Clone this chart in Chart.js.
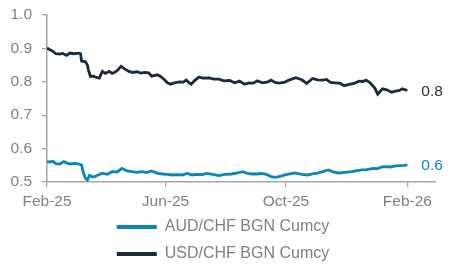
<!DOCTYPE html>
<html>
<head>
<meta charset="utf-8">
<script src="https://cdn.jsdelivr.net/npm/chart.js@4"></script>
<style>
  html, body { margin: 0; padding: 0; background: #ffffff; }
  #wrap { width: 450px; height: 271px; position: relative; }
</style>
</head>
<body>
<div id="wrap"><canvas id="c"></canvas></div>
<script>
// Days counted from 1 Feb 2025
const seriesNames = ['AUD/CHF BGN Cumcy', 'USD/CHF BGN Cumcy'];
const tickDays = [0, 120, 242, 365];
const tickLabels = ['Feb-25', 'Jun-25', 'Oct-25', 'Feb-26'];
const yTicks = [0.5, 0.6, 0.7, 0.8, 0.9, 1.0];

const audDays = [0,3,6,9,13,17,21,24,28,32,35,37,39,41,43,46,49,52,56,61,66,71,76,81,86,91,96,101,106,112,117,122,127,132,137,142,147,152,157,162,168,174,180,187,193,198,203,208,213,217,222,227,231,235,241,246,251,258,264,269,275,280,285,290,295,302,309,314,319,324,330,335,339,343,348,353,358,362,365];
const audValues = [0.561,0.560,0.562,0.555,0.554,0.561,0.556,0.554,0.556,0.554,0.551,0.526,0.511,0.506,0.520,0.515,0.517,0.521,0.526,0.523,0.531,0.530,0.541,0.533,0.531,0.529,0.531,0.528,0.533,0.526,0.524,0.523,0.521,0.522,0.521,0.526,0.521,0.523,0.522,0.526,0.523,0.519,0.523,0.524,0.527,0.531,0.526,0.524,0.524,0.526,0.523,0.516,0.514,0.516,0.521,0.524,0.527,0.523,0.521,0.524,0.527,0.532,0.536,0.530,0.527,0.529,0.531,0.534,0.536,0.537,0.541,0.540,0.545,0.546,0.545,0.548,0.549,0.550,0.551];

const usdDays = [0,3,5,9,13,16,20,23,27,32,34,35,39,41,42,44,47,50,53,56,59,63,66,69,72,75,79,83,87,91,95,99,103,106,112,115,119,122,125,129,134,138,141,144,146,150,154,158,164,169,174,179,185,190,195,200,205,209,213,218,223,227,231,235,240,245,252,258,263,269,274,279,283,287,292,297,301,306,311,316,320,323,327,332,335,338,340,344,349,353,357,360,365];
const usdValues = [0.901,0.896,0.893,0.884,0.883,0.885,0.879,0.886,0.884,0.886,0.884,0.862,0.860,0.849,0.835,0.816,0.817,0.813,0.811,0.831,0.825,0.831,0.825,0.829,0.836,0.846,0.838,0.831,0.828,0.830,0.826,0.828,0.827,0.817,0.821,0.816,0.806,0.797,0.793,0.797,0.800,0.799,0.805,0.797,0.793,0.805,0.814,0.811,0.812,0.808,0.808,0.803,0.804,0.797,0.802,0.793,0.797,0.796,0.803,0.797,0.799,0.805,0.798,0.796,0.798,0.805,0.812,0.806,0.795,0.810,0.806,0.805,0.807,0.798,0.797,0.795,0.788,0.792,0.795,0.802,0.801,0.805,0.798,0.781,0.763,0.773,0.779,0.776,0.769,0.772,0.774,0.779,0.774];

const colors = ['#0a87ba', '#1b2b3c'];
const greyText = '#7f7f7f';
const axisGrey = '#a6a6a6';

function pts(days, vals) { return days.map((d, i) => ({ x: d, y: vals[i] })); }

const endLabels = {
  id: 'endLabels',
  afterDatasetsDraw(chart) {
    const ctx = chart.ctx;
    ctx.save();
    ctx.font = '15.5px "Liberation Sans", Arial, sans-serif';
    ctx.textAlign = 'left';
    ctx.textBaseline = 'middle';
    chart.data.datasets.forEach((ds, i) => {
      const meta = chart.getDatasetMeta(i);
      const last = meta.data[meta.data.length - 1];
      const v = ds.data[ds.data.length - 1].y;
      ctx.fillStyle = ds.borderColor;
      ctx.fillText(v.toFixed(1), last.x + 14, last.y + 1);
    });
    ctx.restore();
  }
};

new Chart(document.getElementById('c'), {
  type: 'line',
  data: {
    datasets: [
      { label: seriesNames[0], data: pts(audDays, audValues), borderColor: colors[0], backgroundColor: colors[0], borderWidth: 2.8, pointRadius: 0, tension: 0 },
      { label: seriesNames[1], data: pts(usdDays, usdValues), borderColor: colors[1], backgroundColor: colors[1], borderWidth: 2.8, pointRadius: 0, tension: 0 }
    ]
  },
  options: {
    responsive: true,
    maintainAspectRatio: false,
    animation: false,
    layout: { padding: { top: 15, right: 14, left: 10, bottom: -1 } },
    plugins: {
      tooltip: { enabled: false },
      legend: {
        position: 'bottom',
        align: 'center',
        labels: {
          color: greyText,
          font: { family: '"Liberation Sans", Arial, sans-serif', size: 16 },
          usePointStyle: true,
          pointStyle: 'line',
          pointStyleWidth: 40,
          padding: 11,
          generateLabels(chart) {
            return chart.data.datasets.map((ds, i) => ({
              text: ds.label, strokeStyle: ds.borderColor, fillStyle: ds.borderColor,
              lineWidth: 4, pointStyle: 'line', datasetIndex: i, hidden: false, fontColor: greyText
            }));
          }
        }
      }
    },
    scales: {
      x: {
        type: 'linear',
        min: 0,
        max: 394,
        afterBuildTicks(scale) { scale.ticks = tickDays.map(v => ({ value: v })); },
        afterFit(scale) { scale.height = 26; },
        ticks: {
          autoSkip: false, maxRotation: 0, padding: 5, color: greyText,
          font: { family: '"Liberation Sans", Arial, sans-serif', size: 15.5 },
          callback(value) { const i = tickDays.indexOf(value); return i >= 0 ? tickLabels[i] : ''; }
        },
        grid: { drawOnChartArea: false, drawTicks: true, tickLength: 5, color: axisGrey, lineWidth: 1.3 },
        border: { display: true, color: axisGrey, width: 1.5 }
      },
      y: {
        min: 0.5,
        max: 1.0,
        afterBuildTicks(scale) { scale.ticks = yTicks.map(v => ({ value: v })); },
        afterFit(scale) { scale.width = 37; },
        ticks: {
          padding: 10, color: greyText,
          font: { family: '"Liberation Sans", Arial, sans-serif', size: 15.5, lineHeight: 0.6 },
          callback(value) { return value.toFixed(1); }
        },
        grid: { drawOnChartArea: false, drawTicks: true, tickLength: 5, color: axisGrey, lineWidth: 1.3 },
        border: { display: true, color: axisGrey, width: 1.5 }
      }
    }
  },
  plugins: [endLabels]
});
</script>
</body>
</html>
